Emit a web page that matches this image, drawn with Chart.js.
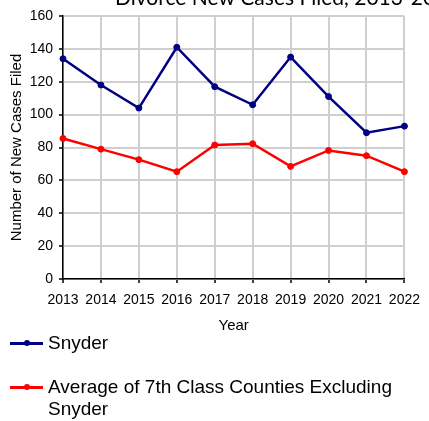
<!DOCTYPE html>
<html>
<head>
<meta charset="utf-8">
<script src="https://cdn.jsdelivr.net/npm/chart.js@4/dist/chart.umd.min.js"></script>
<style>
  html, body { margin: 0; padding: 0; background: #fff; width: 429px; height: 421px; overflow: hidden; }
  #wrap { position: absolute; left: 0; top: 0; width: 429px; height: 421px; }
  #chart { position: absolute; left: 0; top: 0; }
  #legend { position: absolute; left: 0; top: 0; width: 429px; height: 421px; font-family: Arial, "Liberation Sans", sans-serif; font-size: 19px; color: #000; }
  .item { position: absolute; left: 10px; }
  .mark { position: absolute; left: 0; width: 33px; height: 2.5px; }
  .dot { position: absolute; left: 13.5px; width: 6px; height: 6px; border-radius: 50%; top: -1.75px; }
  .txt { position: absolute; left: 38px; top: 0; width: 360px; line-height: 21.8px; white-space: normal; }
</style>
</head>
<body>
<div id="wrap">
  <canvas id="chart" width="429" height="421"></canvas>
  <div id="legend"></div>
</div>
<script>
// ---- data ----
const chartTitle = 'Divorce New Cases Filed, 2013-2022';
const years = ['2013', '2014', '2015', '2016', '2017', '2018', '2019', '2020', '2021', '2022'];
const snyderCases = [134, 118, 104, 141, 117, 106, 135, 111, 89, 93];
const avg7thClassCases = [85.5, 79, 72.6, 65.3, 81.5, 82.3, 68.5, 78.2, 75, 65.3];
const seriesNames = ['Snyder', 'Average of 7th Class Counties Excluding Snyder'];
const seriesColors = ['#000080', '#FF0000'];
const yMin = 0, yMax = 160, yStep = 20;
const xAxisTitle = 'Year';
const yAxisTitle = 'Number of New Cases Filed';

const gridColor = '#cfcfcf';

const croppedTitle = {
  id: 'croppedTitle',
  afterDraw(chart) {
    const ctx = chart.ctx;
    ctx.save();
    ctx.font = '21px Lato, "Open Sans", sans-serif';
    ctx.fillStyle = '#000';
    ctx.textAlign = 'left';
    ctx.textBaseline = 'alphabetic';
    ctx.fillText(chartTitle, 115, 4.5);
    ctx.restore();
  }
};

const datasets = [snyderCases, avg7thClassCases].map((vals, i) => ({
  label: seriesNames[i],
  data: vals,
  borderColor: seriesColors[i],
  backgroundColor: seriesColors[i],
  pointBackgroundColor: seriesColors[i],
  pointBorderColor: seriesColors[i],
  borderWidth: 2.5,
  pointRadius: 3,
  pointBorderWidth: 1,
  tension: 0,
  fill: false
}));

const chart = new Chart(document.getElementById('chart'), {
  type: 'line',
  data: { labels: years, datasets: datasets },
  options: {
    responsive: false,
    animation: false,
    devicePixelRatio: 1,
    layout: { padding: { left: 0, top: 16, right: 17, bottom: 86 } },
    plugins: {
      legend: { display: false },
      title: { display: false },
      tooltip: { enabled: false }
    },
    scales: {
      x: {
        offset: false,
        grid: { color: gridColor, lineWidth: 2, tickLength: 4, tickColor: '#000', tickWidth: 1.5, offset: false },
        border: { color: '#000', width: 1.5 },
        ticks: { font: { family: 'Arial', size: 14 }, color: '#000', padding: 9, maxRotation: 0, autoSkip: false },
        title: { display: true, text: xAxisTitle, font: { family: 'Arial', size: 15 }, color: '#000', padding: 0 },
        afterFit(s) { s.height = 56; }
      },
      y: {
        min: yMin, max: yMax,
        grid: { color: gridColor, lineWidth: 2, tickLength: 4, tickColor: '#000', tickWidth: 1.5 },
        border: { color: '#000', width: 1.5 },
        ticks: { stepSize: yStep, font: { family: 'Arial', size: 14 }, color: '#000', padding: 6 },
        title: { display: true, text: yAxisTitle, font: { family: 'Arial', size: 15 }, color: '#000', padding: { top: 8, bottom: 0 } },
        afterFit(s) { s.width = 63; }
      }
    }
  },
  plugins: [croppedTitle]
});

// ---- HTML legend built from the chart's datasets ----
const legendTops = [332, 376];
const legend = document.getElementById('legend');
chart.data.datasets.forEach((ds, i) => {
  const item = document.createElement('div');
  item.className = 'item';
  item.style.top = legendTops[i] + 'px';
  const mark = document.createElement('div');
  mark.className = 'mark';
  mark.style.top = '10px';
  mark.style.background = ds.borderColor;
  const dot = document.createElement('div');
  dot.className = 'dot';
  dot.style.background = ds.borderColor;
  mark.appendChild(dot);
  const txt = document.createElement('div');
  txt.className = 'txt';
  txt.textContent = ds.label;
  item.appendChild(mark);
  item.appendChild(txt);
  legend.appendChild(item);
});
</script>
</body>
</html>
